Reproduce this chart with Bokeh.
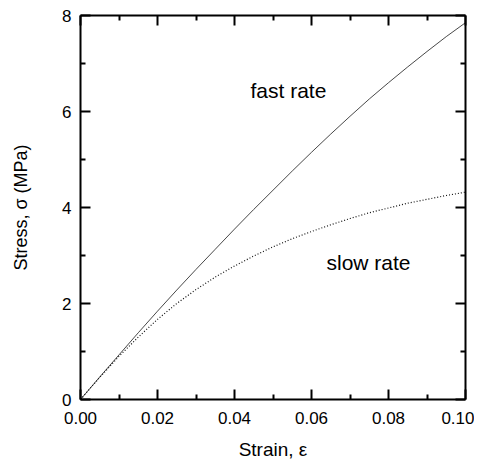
from bokeh.plotting import figure
from bokeh.models import Range1d, LinearAxis, FixedTicker, ColumnDataSource
from bokeh.embed import file_html
from bokeh.resources import INLINE
from bokeh.core.properties import value

strain = [0.0, 0.005, 0.01, 0.015, 0.02, 0.025, 0.03, 0.035, 0.04, 0.045, 0.05,
          0.055, 0.06, 0.065, 0.07, 0.075, 0.08, 0.085, 0.09, 0.095, 0.10]
fast_rate = [0.0, 0.47, 0.93, 1.39, 1.84, 2.28, 2.71, 3.13, 3.55, 3.96, 4.36,
             4.76, 5.15, 5.53, 5.90, 6.26, 6.60, 6.93, 7.25, 7.56, 7.85]
slow_rate = [0.0, 0.46, 0.90, 1.30, 1.67, 2.00, 2.29, 2.55, 2.78, 2.99, 3.18,
             3.35, 3.50, 3.64, 3.77, 3.89, 3.99, 4.09, 4.17, 4.25, 4.32]

x_major = [0.0, 0.02, 0.04, 0.06, 0.08, 0.10]
x_minor = [0.01, 0.03, 0.05, 0.07, 0.09]
x_labels = ["0.00", "0.02", "0.04", "0.06", "0.08", "0.10"]
y_major = [0, 2, 4, 6, 8]
y_minor = [1, 3, 5, 7]
y_labels = ["0", "2", "4", "6", "8"]

ann_text = ["fast rate", "slow rate"]
ann_x = [0.054, 0.0748]
ann_y = [6.43, 2.85]

FONT = "Liberation Sans"

p = figure(width=474, height=462, output_backend="svg", toolbar_location=None,
           x_range=Range1d(0, 0.1), y_range=Range1d(0, 8),
           min_border_left=80, min_border_right=9, min_border_top=15, min_border_bottom=55,
           x_axis_location=None, y_axis_location=None)
p.outline_line_color = None
p.grid.visible = False
p.background_fill_color = "white"
p.border_fill_color = "white"

src = ColumnDataSource(dict(x=strain, fast=fast_rate, slow=slow_rate))
p.line("x", "fast", source=src, line_color="#333333", line_width=0.9)
p.line("x", "slow", source=src, line_color="#111111", line_width=1.2, line_dash="1 2")

p.text(x=ann_x, y=ann_y, text=ann_text, text_font=value(FONT), text_font_size="21px",
       text_align="center", text_baseline="middle", text_color="black")

def style(ax, labels=True):
    ax.axis_line_width = 2
    ax.axis_line_color = "black"
    ax.major_tick_in = 10
    ax.major_tick_out = 0
    ax.minor_tick_in = 5
    ax.minor_tick_out = 0
    ax.major_tick_line_width = 2
    ax.minor_tick_line_width = 2
    ax.major_label_text_font = FONT
    ax.major_label_text_font_size = "17px"
    ax.major_label_text_color = "black"
    ax.axis_label_text_font = FONT
    ax.axis_label_text_font_size = "18px"
    ax.axis_label_text_font_style = "normal"
    ax.axis_label_text_color = "black"
    if not labels:
        ax.major_label_text_font_size = "0px"
        ax.major_label_text_alpha = 0

xt = FixedTicker(ticks=x_major, minor_ticks=x_minor)
yt = FixedTicker(ticks=y_major, minor_ticks=y_minor)

xb = LinearAxis(ticker=xt, axis_label="Strain, ε",
                major_label_overrides={v: s for v, s in zip(x_major, x_labels)})
style(xb)
xb.axis_label_text_font_size = "19px"
xb.major_label_standoff = 12
xb.axis_label_standoff = 12
p.add_layout(xb, "below")

yl = LinearAxis(ticker=yt, axis_label="Stress, σ (MPa)",
                major_label_overrides={v: s for v, s in zip(y_major, y_labels)})
style(yl)
yl.major_label_standoff = 9
yl.axis_label_standoff = 28
p.add_layout(yl, "left")

xa = LinearAxis(ticker=xt)
style(xa, labels=False)
p.add_layout(xa, "above")

yr = LinearAxis(ticker=yt)
style(yr, labels=False)
p.add_layout(yr, "right")

open("out.html", "w").write(file_html(p, INLINE))
